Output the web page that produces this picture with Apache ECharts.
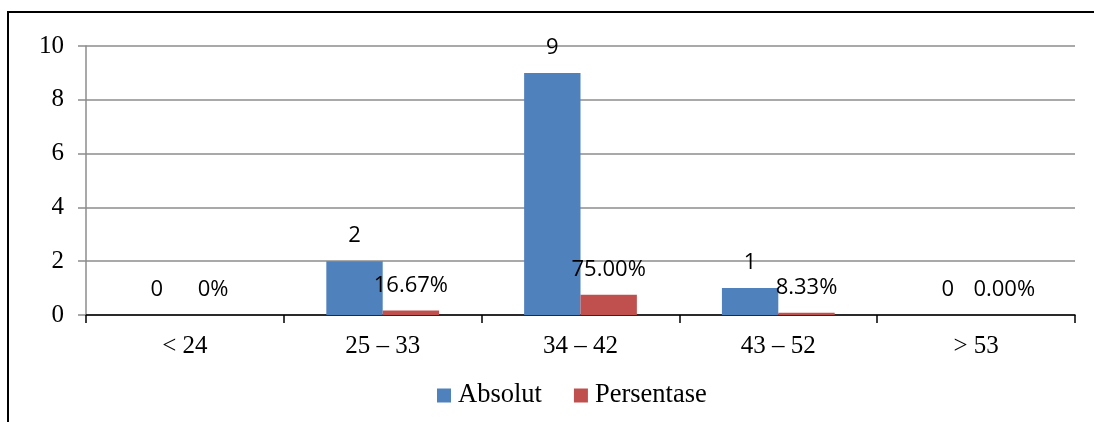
<!DOCTYPE html>
<html>
<head>
<meta charset="utf-8">
<style>
  html, body { margin: 0; padding: 0; background: #ffffff; }
  #chart { width: 1094px; height: 422px; }
</style>
<script src="https://cdn.jsdelivr.net/npm/echarts@6/dist/echarts.min.js"></script>
</head>
<body>
<div id="chart"></div>
<script>
// Age groups and counts
const categories = ['< 24', '25 \u2013 33', '34 \u2013 42', '43 \u2013 52', '> 53'];
const absolut = [0, 2, 9, 1, 0];
// Share of respondents as a fraction (plotted on the same axis)
const persentase = [0, 0.1667, 0.75, 0.0833, 0];
// Decimal places used in each percentage label
const pctDigits = [0, 2, 2, 2, 2];
const yTicks = { min: 0, max: 10, interval: 2 };

const serif = '"Liberation Serif", "Times New Roman", serif';
const sans = '"Open Sans", "Noto Sans", sans-serif';

const chart = echarts.init(document.getElementById('chart'), null, { renderer: 'canvas' });

chart.setOption({
  animation: false,
  backgroundColor: '#ffffff',
  graphic: [{
    type: 'rect',
    shape: { x: 8, y: 12, width: 1100, height: 430 },
    style: { fill: 'none', stroke: '#000000', lineWidth: 2 },
    silent: true
  }],
  grid: { left: 86, right: 19, top: 46, bottom: 107, containLabel: false },
  legend: {
    left: 432,
    top: 377,
    itemWidth: 14,
    itemHeight: 14,
    itemGap: 32,
    icon: 'rect',
    textStyle: { fontFamily: serif, fontSize: 26.5, color: '#000', padding: [0, 0, 0, 2] },
    data: ['Absolut', 'Persentase']
  },
  xAxis: {
    type: 'category',
    data: categories,
    axisLine: { lineStyle: { color: '#000', width: 1.5 } },
    axisTick: { show: true, length: 8, lineStyle: { color: '#000', width: 1.5 } },
    axisLabel: { fontFamily: serif, fontSize: 25, color: '#000', margin: 19 }
  },
  yAxis: {
    type: 'value',
    min: yTicks.min,
    max: yTicks.max,
    interval: yTicks.interval,
    axisLine: { show: true, lineStyle: { color: '#8c8c8c', width: 1.5 } },
    axisTick: { show: true, length: 8, lineStyle: { color: '#8c8c8c', width: 1.5 } },
    splitLine: { show: true, lineStyle: { color: '#8c8c8c', width: 1.5 } },
    axisLabel: { fontFamily: serif, fontSize: 25, color: '#000', margin: 22 }
  },
  series: [
    {
      name: 'Absolut',
      type: 'bar',
      data: absolut,
      barGap: '0%',
      barCategoryGap: '43%',
      itemStyle: { color: '#4f81bd' },
      label: {
        show: true,
        position: 'top',
        distance: 14,
        fontFamily: sans,
        fontSize: 22,
        color: '#000'
      }
    },
    {
      name: 'Persentase',
      type: 'bar',
      data: persentase,
      barGap: '0%',
      barCategoryGap: '43%',
      itemStyle: { color: '#c0504d' },
      label: {
        show: true,
        position: 'top',
        distance: 14,
        fontFamily: sans,
        fontSize: 22,
        color: '#000',
        formatter: p => (p.value * 100).toFixed(pctDigits[p.dataIndex]) + '%'
      }
    }
  ]
});
</script>
</body>
</html>
